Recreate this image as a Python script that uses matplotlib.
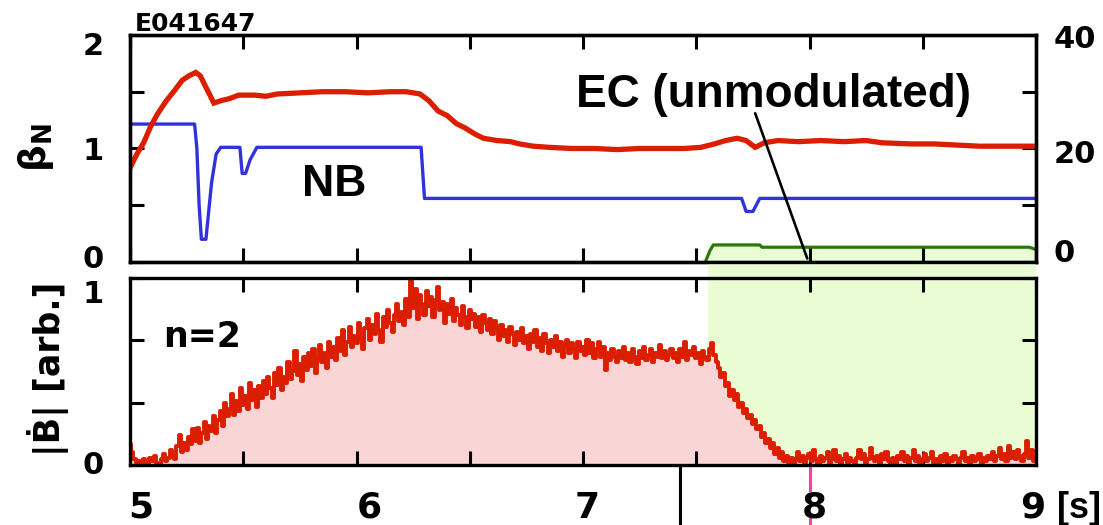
import numpy as np
import matplotlib.pyplot as plt
import matplotlib.transforms as mtransforms
from matplotlib.ticker import FixedLocator

plt.rcParams['font.family'] = ['DejaVu Sans']
plt.rcParams['font.weight'] = 'bold'
plt.rcParams['mathtext.fontset'] = 'dejavusans'

# beta_N (left axis)
bn_t = [5.00, 5.03, 5.06, 5.09, 5.12, 5.16, 5.20, 5.23, 5.26, 5.29, 5.31, 5.34,
        5.37, 5.40, 5.44, 5.48, 5.55, 5.60, 5.65, 5.75, 5.85, 5.95, 6.05, 6.15,
        6.22, 6.28, 6.32, 6.36, 6.40, 6.44, 6.48, 6.52, 6.56, 6.62, 6.68, 6.72,
        6.78, 6.85, 6.95, 7.05, 7.15, 7.25, 7.35, 7.45, 7.52, 7.58, 7.63, 7.68,
        7.72, 7.76, 7.80, 7.86, 7.95, 8.05, 8.15, 8.25, 8.32, 8.45, 8.55, 8.65,
        8.75, 8.85, 9.00]
bn_v = [0.83, 0.95, 1.05, 1.19, 1.30, 1.42, 1.52, 1.60, 1.64, 1.67, 1.64, 1.52,
        1.40, 1.42, 1.44, 1.47, 1.47, 1.46, 1.48, 1.49, 1.50, 1.50, 1.49, 1.50,
        1.50, 1.48, 1.42, 1.33, 1.29, 1.22, 1.18, 1.13, 1.09, 1.07, 1.06, 1.04,
        1.02, 1.01, 1.00, 1.00, 0.99, 1.00, 1.00, 1.00, 1.01, 1.04, 1.07, 1.09,
        1.07, 1.01, 1.05, 1.07, 1.06, 1.07, 1.06, 1.07, 1.05, 1.04, 1.04, 1.03,
        1.02, 1.02, 1.02]

# NB power (right axis, MW)
nb_t = [5.00, 5.285, 5.295, 5.305, 5.315, 5.335, 5.345, 5.36, 5.38, 5.40,
        5.485, 5.495, 5.51, 5.53, 5.56, 6.285, 6.30, 7.70, 7.72, 7.75, 7.78, 9.00]
nb_v = [24.3, 24.3, 20.0, 10.0, 4.0, 4.0, 8.0, 14.0, 19.0, 20.2,
        20.2, 15.6, 15.6, 18.0, 20.2, 20.2, 11.2, 11.2, 8.9, 8.9, 11.2, 11.2]

# EC power (right axis, MW)
ec_t = [7.54, 7.56, 7.575, 7.78, 7.79, 8.97, 9.00]
ec_v = [0.0, 2.0, 3.0, 3.0, 2.6, 2.6, 2.2]
ec_on = 7.55

# n=2 |dB/dt| amplitude, sampled every 10 ms from 5.0 s to 9.0 s
bdot = [
    0.11, 0.07, 0.03, 0.01, 0.02, 0.00, 0.03, 0.01, 0.00, 0.04,
    0.02, 0.05, 0.01, 0.00, 0.03, 0.06, 0.02, 0.04, 0.08, 0.05,
    0.03, 0.10, 0.16, 0.07, 0.12, 0.08, 0.15, 0.11, 0.19, 0.13,
    0.20, 0.12, 0.17, 0.23, 0.14, 0.21, 0.18, 0.26, 0.17, 0.24,
    0.29, 0.21, 0.33, 0.26, 0.30, 0.38, 0.27, 0.34, 0.29, 0.41,
    0.32, 0.37, 0.30, 0.44, 0.35, 0.40, 0.31, 0.42, 0.36, 0.45,
    0.38, 0.47, 0.41, 0.36, 0.49, 0.43, 0.52, 0.40, 0.47, 0.44,
    0.55, 0.46, 0.50, 0.61, 0.48, 0.54, 0.45, 0.58, 0.51, 0.60,
    0.53, 0.62, 0.49, 0.57, 0.64, 0.55, 0.60, 0.52, 0.66, 0.58,
    0.63, 0.56, 0.68, 0.61, 0.72, 0.59, 0.66, 0.74, 0.63, 0.69,
    0.65, 0.76, 0.68, 0.62, 0.73, 0.78, 0.67, 0.75, 0.70, 0.81,
    0.72, 0.66, 0.79, 0.74, 0.83, 0.76, 0.71, 0.80, 0.86, 0.77,
    0.82, 0.75, 0.89, 0.79, 0.99, 0.84, 0.94, 0.78, 0.91, 0.86,
    0.80, 0.93, 0.85, 0.90, 0.79, 0.88, 0.95, 0.83, 0.87, 0.76,
    0.86, 0.81, 0.89, 0.77, 0.84, 0.80, 0.75, 0.85, 0.79, 0.73,
    0.83, 0.78, 0.81, 0.74, 0.79, 0.71, 0.80, 0.76, 0.72, 0.78,
    0.70, 0.77, 0.73, 0.67, 0.75, 0.69, 0.72, 0.66, 0.74, 0.70,
    0.64, 0.71, 0.67, 0.73, 0.65, 0.69, 0.62, 0.70, 0.66, 0.72,
    0.63, 0.68, 0.61, 0.70, 0.65, 0.60, 0.67, 0.63, 0.69, 0.61,
    0.66, 0.58, 0.64, 0.67, 0.60, 0.65, 0.62, 0.57, 0.66, 0.61,
    0.63, 0.59, 0.67, 0.60, 0.65, 0.57, 0.62, 0.66, 0.58, 0.63,
    0.51, 0.60, 0.56, 0.62, 0.58, 0.55, 0.61, 0.57, 0.63, 0.56,
    0.60, 0.55, 0.62, 0.58, 0.54, 0.61, 0.57, 0.63, 0.56, 0.59,
    0.62, 0.55, 0.60, 0.58, 0.64, 0.57, 0.61, 0.56, 0.59, 0.62,
    0.57, 0.60, 0.55, 0.62, 0.58, 0.66, 0.56, 0.61, 0.59, 0.63,
    0.57, 0.60, 0.54, 0.61, 0.58, 0.56, 0.62, 0.65, 0.59, 0.55,
    0.52, 0.47, 0.49, 0.42, 0.44, 0.37, 0.40, 0.35, 0.38, 0.31,
    0.33, 0.28, 0.30, 0.25, 0.27, 0.22, 0.24, 0.19, 0.21, 0.15,
    0.17, 0.12, 0.14, 0.09, 0.12, 0.06, 0.09, 0.04, 0.07, 0.02,
    0.05, 0.01, 0.04, 0.00, 0.03, 0.07, 0.02, 0.05, 0.01, 0.04,
    0.06, 0.02, 0.08, 0.03, 0.00, 0.05, 0.02, 0.04, 0.07, 0.01,
    0.03, 0.08, 0.02, 0.05, 0.00, 0.03, 0.06, 0.01, 0.04, 0.02,
    0.00, 0.04, 0.08, 0.03, 0.06, 0.01, 0.03, 0.09, 0.04, 0.02,
    0.05, 0.01, 0.06, 0.03, 0.07, 0.02, 0.00, 0.04, 0.01, 0.05,
    0.03, 0.07, 0.02, 0.05, 0.00, 0.04, 0.08, 0.02, 0.05, 0.01,
    0.03, 0.06, 0.02, 0.04, 0.07, 0.01, 0.03, 0.00, 0.05, 0.02,
    0.06, 0.01, 0.04, 0.02, 0.05, 0.03, 0.00, 0.04, 0.07, 0.02,
    0.04, 0.01, 0.05, 0.02, 0.03, 0.06, 0.01, 0.04, 0.02, 0.05,
    0.03, 0.07, 0.02, 0.05, 0.09, 0.03, 0.06, 0.02, 0.10, 0.04,
    0.07, 0.03, 0.08, 0.05, 0.02, 0.06, 0.13, 0.04, 0.08, 0.02,
    0.03]
bdot_t = np.linspace(5.0, 9.0, len(bdot))

xtick_vals = [5, 6, 7, 8, 9]
xlab_pos = [5.049, 6.055, 7.018, 8.020, 8.987]

RED = '#dc1e00'
BLUE = '#3232dc'
GREEN = '#2a780a'
PINK = '#fad5d5'
LGREEN = '#eafcd4'

fig = plt.figure(figsize=(11.03, 5.25), dpi=100)
ax = fig.add_axes([0.1179, 0.5010, 0.8214, 0.4324])
ax2 = ax.twinx()
axb = fig.add_axes([0.1179, 0.1143, 0.8214, 0.3562])


def frame(a):
    for s in a.spines.values():
        s.set_linewidth(2.4)
    a.set_xlim(5, 9)
    a.xaxis.set_major_locator(FixedLocator(xtick_vals))
    a.xaxis.set_minor_locator(FixedLocator([5.5, 6.5, 7.5, 8.5]))
    a.tick_params(which='both', direction='in', length=10, width=2.2,
                  top=True, bottom=True, labelbottom=False, labelsize=22)


# ---- top panel ----
frame(ax)
ax.set_ylim(0, 2)
ax.set_yticks([0, 1, 2])
ax.yaxis.set_minor_locator(FixedLocator([0.5, 1.5]))
ax.tick_params(axis='y', which='both', left=True, right=False, pad=19)

ax2.set_ylim(0, 40)
ax2.set_yticks([0, 20, 40])
ax2.yaxis.set_minor_locator(FixedLocator([10, 30]))
ax2.tick_params(axis='y', which='both', direction='in', length=10, width=2.2,
                right=True, left=False, labelsize=22, pad=12.6)
for s in ax2.spines.values():
    s.set_linewidth(2.4)

ax2.fill_between(ec_t, ec_v, 0, color=LGREEN, lw=0)
ax2.plot(nb_t, nb_v, color=BLUE, lw=2.4)
ax2.plot(ec_t, ec_v, color=GREEN, lw=2.3)

ax.set_zorder(ax2.get_zorder() + 1)
ax.patch.set_visible(False)
ax.plot(bn_t, bn_v, color=RED, lw=3.8, solid_joinstyle='miter')

ax.text(5.90, 0.68, 'NB', fontsize=32, family='Liberation Sans',
        fontweight='bold', ha='center', va='center')
ax.text(7.84, 1.47, 'EC (unmodulated)', fontsize=33, family='Liberation Sans',
        fontweight='bold', ha='center', va='center')
ax.annotate('', xy=(7.99, 0.03), xytext=(7.76, 1.31),
            arrowprops=dict(arrowstyle='-', lw=1.9, color='k',
                            shrinkA=0, shrinkB=0))

# ---- bottom panel ----
frame(axb)
axb.set_ylim(0, 1)
axb.set_yticks([0, 1])
axb.yaxis.set_minor_locator(FixedLocator([1 / 3, 2 / 3]))
axb.tick_params(axis='y', which='both', left=True, right=True, pad=19)

gap = (0.5010 - (0.1143 + 0.3562)) / 0.3562
axb.axvspan(ec_on, 9, ymin=0, ymax=1 + gap, color=LGREEN, lw=0,
            clip_on=False, zorder=0)
axb.fill_between(bdot_t, bdot, 0, step='mid', color=PINK, lw=0, zorder=1)
axb.plot(bdot_t, bdot, color=RED, lw=2.8, drawstyle='steps-mid', zorder=2)
axb.text(5.32, 0.685, 'n=2', fontsize=25, ha='center', va='center')

# x labels sit slightly off their ticks
low = mtransforms.blended_transform_factory(axb.transData, fig.transFigure)
for x, v in zip(xlab_pos, xtick_vals):
    axb.text(x, 1 - 518 / 525, str(v), fontsize=26, ha='center',
             va='baseline', transform=low)
fig.text(1101 / 1103, 1 - 518 / 525, '[s]', fontsize=26,
         family='Liberation Sans', fontweight='bold', ha='right', va='baseline')

# stray guide marks below the time axis
axb.plot([7.43, 7.43], [1 - 466 / 525, 0], color='k', lw=2.2,
         transform=low, clip_on=False)
axb.plot([8.0, 8.0], [1 - 466 / 525, 1 - 490 / 525], color='#ff3caa', lw=2.2,
         transform=low, clip_on=False)
axb.plot([8.0, 8.0], [1 - 519 / 525, 1 - 524 / 525], color='#ff3caa', lw=2.2,
         transform=low, clip_on=False)


# nudge some y tick labels vertically (pixels, + is up)
def nudge(labels, shifts):
    for lab, dy in zip(labels, shifts):
        lab.set_transform(lab.get_transform() + mtransforms.ScaledTranslation(
            0, dy / fig.dpi, fig.dpi_scale_trans))


nudge(ax.get_yticklabels(), [5, 0, -9])
nudge(ax2.get_yticklabels(), [11, -3, -2])
nudge(axb.get_yticklabels(), [2, -14])

fig.text(36 / 1103, 1 - 148 / 525, 'β$_{\\mathbf{N}}$', fontsize=27,
         rotation=90, ha='center', va='center')
fig.text(48 / 1103, 1 - 369 / 525, '|Ḃ| [arb.]', fontsize=25,
         rotation=90, ha='center', va='center')
fig.text(135 / 1103, 1 - 31 / 525, 'E041647', fontsize=18,
         ha='left', va='baseline')

fig.savefig('out.png', dpi=100)
